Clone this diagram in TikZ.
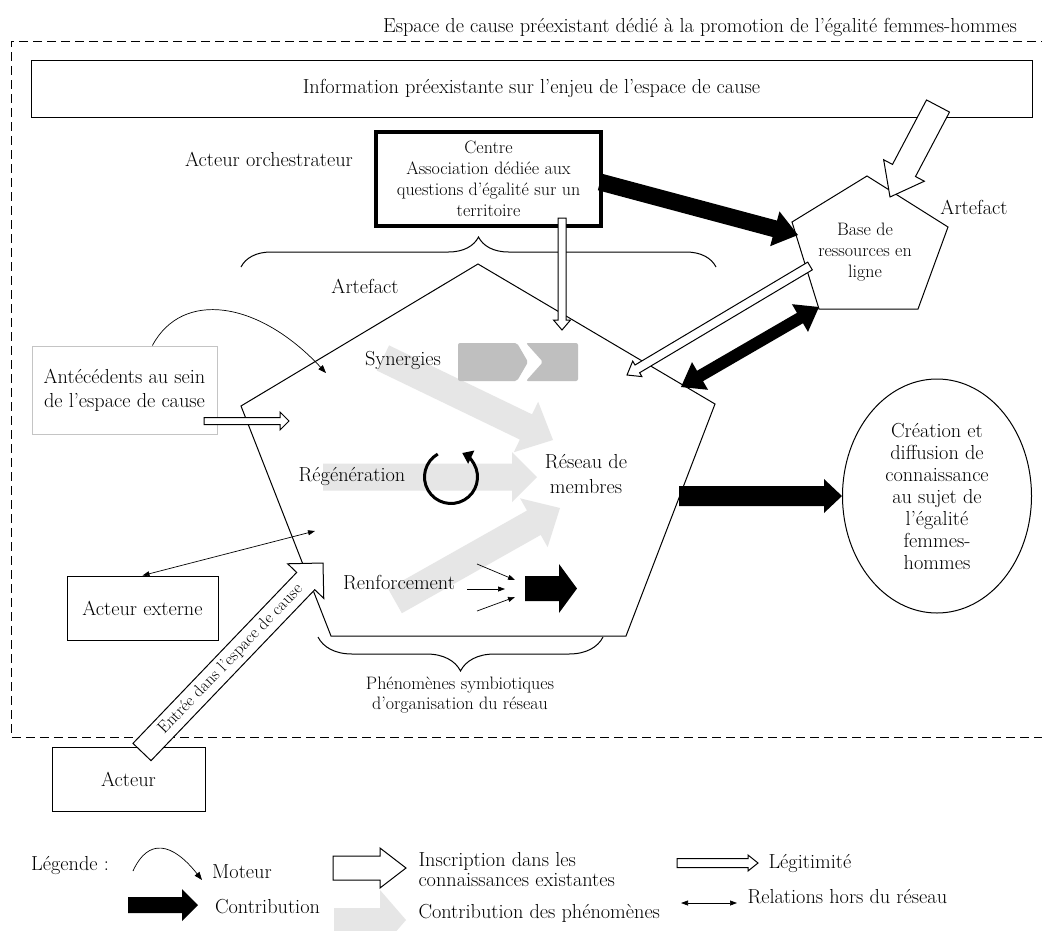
\documentclass[tikz,border=0pt]{standalone}
\usetikzlibrary{calc,shapes.geometric,decorations.pathreplacing,arrows.meta}
\definecolor{lightg}{HTML}{E6E6E6}
\definecolor{midg}{HTML}{BFBFBF}
\definecolor{boxg}{HTML}{C4C4C4}
\newcommand{\fmain}{\fontsize{20.3}{22}\selectfont}
\newcommand{\fsmall}{\fontsize{18}{21}\selectfont}
\newcommand{\fent}{\fontsize{17}{18}\selectfont}
\newcommand{\barrow}[6][]{%
  \coordinate (ba-h) at ($(#3)!#6!(#2)$);
  \path[#1] ($(#2)!#4!90:(#3)$) -- ($(ba-h)!#4!90:(#3)$) -- ($(ba-h)!#5!90:(#3)$) -- (#3)
    -- ($(ba-h)!#5!-90:(#3)$) -- ($(ba-h)!#4!-90:(#3)$) -- ($(#2)!#4!-90:(#3)$) -- cycle;}
\newcommand{\dbarrow}[6][]{%
  \coordinate (ba-h) at ($(#3)!#6!(#2)$);
  \coordinate (ba-t) at ($(#2)!#6!(#3)$);
  \path[#1] (#2) -- ($(ba-t)!#5!90:(#3)$) -- ($(ba-t)!#4!90:(#3)$) -- ($(ba-h)!#4!90:(#3)$)
    -- ($(ba-h)!#5!90:(#3)$) -- (#3) -- ($(ba-h)!#5!-90:(#3)$) -- ($(ba-h)!#4!-90:(#3)$)
    -- ($(ba-t)!#4!-90:(#3)$) -- ($(ba-t)!#5!-90:(#3)$) -- cycle;}
\begin{document}
\begin{tikzpicture}[x=1pt,y=-1pt,line width=1pt,
  txt/.style={inner sep=0pt,font=\fmain,align=center},
  stxt/.style={inner sep=0pt,font=\fsmall,align=center},
  boxnode/.style={draw,line width=1pt,inner sep=0pt,font=\fmain,align=center},
  hollow/.style={draw,fill=white,line width=1pt},
  blackarr/.style={fill=black},
  phen/.style={fill=lightg},
  hairline/.style={line width=0.7pt},
  smallhead/.style={-{Triangle[length=7pt,width=5pt]}}]
\useasboundingbox (0,0) rectangle (1042,930);
\fill[white] (0,0) rectangle (1042,930);
\clip (0,0) rectangle (1042,930);

% cause space frame
\draw[dash pattern=on 9pt off 5pt,line width=1pt] (1050,41) -- (11,41) -- (11,737) -- (1050,737);
\node[txt] (title) at (700,27) {Espace de cause préexistant dédié à la promotion de l’égalité femmes-hommes};

\node[boxnode,minimum width=1001pt,minimum height=57pt] (info) at (531.5,88.5) {Information préexistante sur l’enjeu de l’espace de cause};

\node[txt] (orch) at (269,159) {Acteur orchestrateur};
\node[boxnode,line width=4pt,font=\fsmall,minimum width=225pt,minimum height=94pt] (centre) at (488.5,179) {Centre\\Association dédiée aux\\questions d’égalité sur un\\territoire};

% pentagon coordinates
\coordinate (P1) at (478,264); \coordinate (P2) at (715,404); \coordinate (P3) at (626,636);
\coordinate (P4) at (331,636); \coordinate (P5) at (241,406);
\coordinate (Q1) at (867,176); \coordinate (Q2) at (948,227); \coordinate (Q3) at (918,309);
\coordinate (Q4) at (819,309); \coordinate (Q5) at (792,222);

% phenomena arrows (light grey)
\coordinate (gs1) at (383,358); \coordinate (gs2) at (553,440);
\barrow[phen]{gs1}{gs2}{14pt}{28pt}{30pt}
\coordinate (gr1) at (323,477); \coordinate (gr2) at (537,477);
\barrow[phen]{gr1}{gr2}{13.5pt}{25pt}{25pt}
\coordinate (gf1) at (395,601); \coordinate (gf2) at (560,508);
\barrow[phen]{gf1}{gf2}{14pt}{28pt}{30pt}

% synergies chevrons
\fill[midg,rounded corners=2pt] (458,343) -- (517,343) -- (528,362) -- (517,381) -- (458,381) -- cycle;
\fill[midg,rounded corners=2pt] (526,343) -- (578,343) -- (578,381) -- (526,381) -- (543,362) -- cycle;

% pentagons
\draw (P1) -- (P2) -- (P3) -- (P4) -- (P5) -- cycle;
\draw (Q1) -- (Q2) -- (Q3) -- (Q4) -- (Q5) -- cycle;

\node[txt] (artA) at (365,286) {Artefact};
\node[txt] (artB) at (974,207) {Artefact};
\node[stxt] (base) at (865,252) {Base de\\ressources en\\ligne};

\node[txt] (syn) at (403,360) {Synergies};
\node[txt] (reg) at (352,476) {Régénération};
\node[txt] (res) at (586,474) {Réseau de\\[3pt]membres};
\node[txt] (renf) at (399,583) {Renforcement};

% braces
\draw[decorate,decoration={brace,amplitude=30pt}] (241,267) -- (716,267);
\draw[decorate,decoration={brace,amplitude=34pt}] (603,637) -- (318,637);
\node[stxt,font=\fontsize{18}{20.5}\selectfont] (phenlbl) at (460,695) {Phénomènes symbiotiques\\d’organisation du réseau};

% boxes
\node[boxnode,draw=boxg,minimum width=185pt,minimum height=88pt] (ante) at (124.5,390) {Antécédents au sein\\[2pt]de l’espace de cause};
\node[boxnode,minimum width=151pt,minimum height=64pt] (ext) at (142.5,608) {Acteur externe};
\node[boxnode,minimum width=153pt,minimum height=64pt] (act) at (128.5,779) {Acteur};
\node[boxnode,ellipse,minimum width=189pt,minimum height=234pt] (creation) at (937,496) {Création et\\diffusion de\\connaissance\\au sujet de\\l’égalité\\femmes-\\hommes};

% moteur
\coordinate (motS) at ($(ante.north west)!0.65!(ante.north east)$);
\coordinate (motE) at (326,373);
\draw[hairline,-{Triangle[length=8pt,width=6pt]}] (motS) .. controls (182,290) and (258,300) .. (motE);

% antecedents legitimacy
\coordinate (antA) at (204,421); \coordinate (antB) at (289,421);
\barrow[hollow]{antA}{antB}{3.5pt}{9pt}{9pt}

% entree
\coordinate (entA) at (142,752); \coordinate (entB) at (323,563);
\barrow[hollow]{entA}{entB}{12.5pt}{25pt}{25pt}
\path (entA) -- (entB) node[pos=0.49,sloped,inner sep=0pt,font=\fent] (enttxt) {Entrée dans l’espace de cause};

% relations
\coordinate (relB) at (315,531);
\draw[hairline,{Triangle[length=7pt,width=5pt]}-{Triangle[length=7pt,width=5pt]}] (ext.north) -- (relB);

% legitimacy arrows
\coordinate (clA) at (562,218); \coordinate (clB) at (562,330);
\barrow[hollow]{clA}{clB}{4pt}{8.5pt}{10pt}
\coordinate (blA) at (810,266); \coordinate (blB) at (627,375);
\barrow[hollow]{blA}{blB}{4.5pt}{9pt}{12pt}

% inscription
\coordinate (inA) at (938,106); \coordinate (inB) at (890,197);
\barrow[hollow]{inA}{inB}{13pt}{23pt}{30pt}

% contributions
\coordinate (cbA) at (600,182); \coordinate (cbB) at (798,235);
\barrow[blackarr]{cbA}{cbB}{8.5pt}{18pt}{24pt}
\coordinate (dbA) at (681,387); \coordinate (dbB) at (819,307);
\dbarrow[blackarr]{dbA}{dbB}{6pt}{16pt}{22pt}
\coordinate (crA) at (679,496);
\barrow[blackarr]{crA}{creation.west}{10pt}{17pt}{18pt}
\coordinate (rfA) at (525,588.5); \coordinate (rfB) at (577,588.5);
\barrow[blackarr]{rfA}{rfB}{12.5pt}{24.5pt}{18pt}

% converging small arrows
\coordinate (s1a) at (477,564); \coordinate (s1b) at (515,580);
\coordinate (s2a) at (467,589); \coordinate (s2b) at (505,589);
\coordinate (s3a) at (477,611); \coordinate (s3b) at (515,597);
\draw[hairline,smallhead] (s1a) -- (s1b);
\draw[hairline,smallhead] (s2a) -- (s2b);
\draw[hairline,smallhead] (s3a) -- (s3b);

% regeneration cycle
\coordinate (regc) at (451,477);
\draw[line width=3pt,-{Triangle[length=10pt,width=14pt]}] ($(regc)+(120:26.5pt)$) arc[start angle=120,end angle=425,radius=26.5pt];

% legend
\node[txt] (leg) at (70,865) {Légende :};
\coordinate (lm1) at (133,871); \coordinate (lm2) at (202,880);
\draw[hairline,-{Triangle[length=8pt,width=6pt]}] (lm1) .. controls (148,838) and (172,842) .. (lm2);
\node[txt] (lmot) at (242,872) {Moteur};
\coordinate (lc1) at (128,905); \coordinate (lc2) at (198,905);
\barrow[blackarr]{lc1}{lc2}{8pt}{16pt}{16pt}
\node[txt] (lcon) at (267.5,907) {Contribution};
\coordinate (li1) at (333,868); \coordinate (li2) at (406,868);
\barrow[hollow]{li1}{li2}{12pt}{20pt}{26pt}
\node[txt,anchor=west,align=left,font=\fontsize{20.3}{20}\selectfont] (linsc) at (418,870) {Inscription dans les\\connaissances existantes};
\coordinate (lp1) at (334,920); \coordinate (lp2) at (406,920);
\barrow[phen]{lp1}{lp2}{12pt}{30pt}{26pt}
\node[txt,anchor=west] (lphen) at (418,913) {Contribution des phénomènes};
\coordinate (ll1) at (677,863); \coordinate (ll2) at (758,863);
\barrow[hollow]{ll1}{ll2}{4.5pt}{8pt}{10pt}
\node[txt,anchor=west] (llegi) at (768,863) {Légitimité};
\coordinate (lr1) at (681,903); \coordinate (lr2) at (737,903);
\draw[hairline,{Triangle[length=7pt,width=5pt]}-{Triangle[length=7pt,width=5pt]}] (lr1) -- (lr2);
\node[txt,anchor=west] (lrel) at (747,897) {Relations hors du réseau};
\end{tikzpicture}
\end{document}
